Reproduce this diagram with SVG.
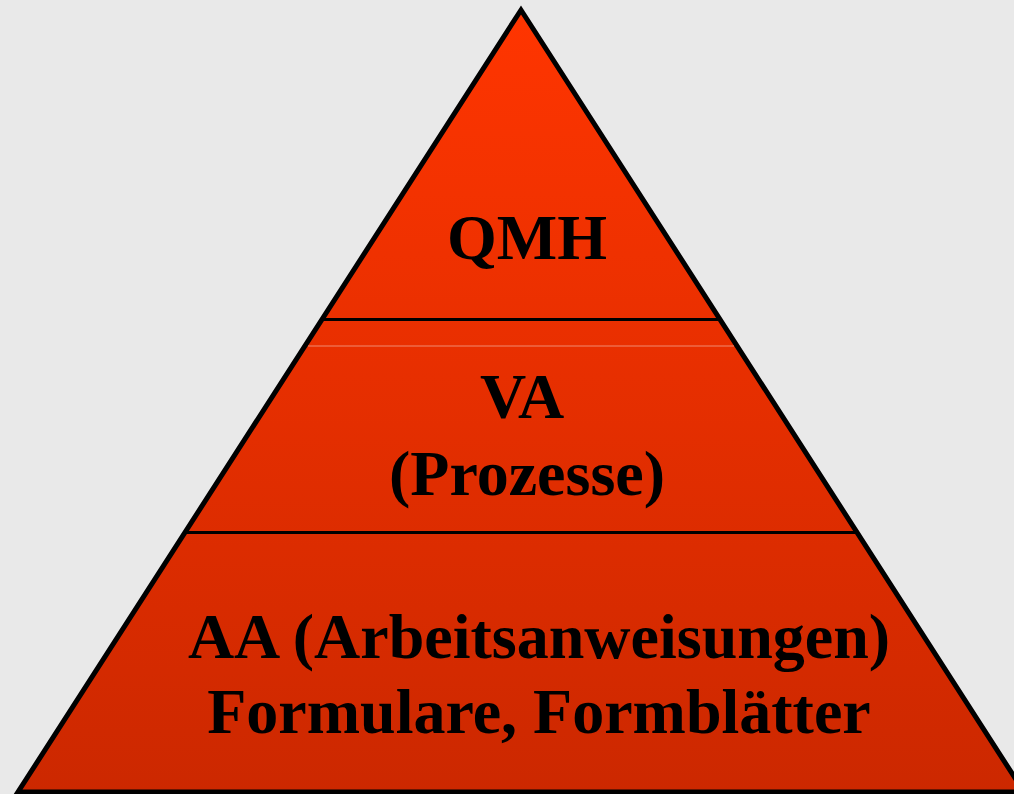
<svg xmlns="http://www.w3.org/2000/svg" width="1014" height="794" viewBox="0 0 1014 794">
<defs>
<linearGradient id="g" x1="0" y1="0" x2="0" y2="1" gradientUnits="objectBoundingBox">
<stop offset="0" stop-color="#ff3500"/>
<stop offset="1" stop-color="#cc2800"/>
</linearGradient>
<style>
text{font-family:"Liberation Serif","Times New Roman",serif;font-weight:bold;font-size:64px;fill:#000;text-anchor:middle}
.sep{stroke:#000;stroke-width:3}
</style>
</defs>
<rect width="1014" height="794" fill="#e9e9e9"/>
<g id="pyramid">
<polygon points="521,10 18,792 1024,792" fill="url(#g)" stroke="#000" stroke-width="5" stroke-linejoin="miter"/>
</g>
<g id="connectors">
<line class="sep" x1="320" y1="319.5" x2="722" y2="319.5"/>
<line x1="308" y1="346" x2="734" y2="346" stroke="#f08a70" stroke-width="1"/>
<line class="sep" x1="185" y1="532.5" x2="858" y2="532.5"/>
</g>
<g id="qmh"><text x="527" y="259">QMH</text></g>
<g id="va"><text x="522" y="418">VA</text><text x="527" y="495">(Prozesse)</text></g>
<g id="aa"><text x="539" y="658">AA (Arbeitsanweisungen)</text><text x="539" y="733">Formulare, Formblätter</text></g>
</svg>
